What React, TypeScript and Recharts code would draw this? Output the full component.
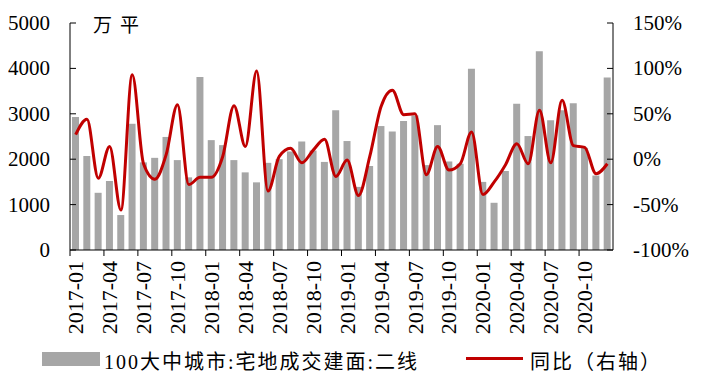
import {
  ComposedChart,
  Bar,
  Line,
  XAxis,
  YAxis,
} from "recharts";

const months = [
  "2017-01", "2017-02", "2017-03", "2017-04", "2017-05", "2017-06",
  "2017-07", "2017-08", "2017-09", "2017-10", "2017-11", "2017-12",
  "2018-01", "2018-02", "2018-03", "2018-04", "2018-05", "2018-06",
  "2018-07", "2018-08", "2018-09", "2018-10", "2018-11", "2018-12",
  "2019-01", "2019-02", "2019-03", "2019-04", "2019-05", "2019-06",
  "2019-07", "2019-08", "2019-09", "2019-10", "2019-11", "2019-12",
  "2020-01", "2020-02", "2020-03", "2020-04", "2020-05", "2020-06",
  "2020-07", "2020-08", "2020-09", "2020-10", "2020-11", "2020-12",
];

// 100大中城市:宅地成交建面:二线 (万平)
const area = [
  2930, 2070, 1260, 1520, 770, 2780, 1930, 2030, 2490, 1980, 1600, 3810,
  2420, 2310, 1980, 1710, 1490, 1920, 2000, 2170, 2390, 2190, 1940, 3080,
  2400, 1390, 1850, 2730, 2610, 2840, 2960, 1870, 2750, 1950, 1900, 3990,
  1500, 1040, 1740, 3220, 2510, 4380, 2860, 3080, 3230, 2250, 1640, 3800,
];

// 同比 (%)
const yoy = [
  27, 44, -21, 14, -56, 93, -5, -22, 5, 60, -28, -20,
  -20, 3, 59, 14, 97, -35, 3, 12, -4, 10, 22, -19,
  -1, -40, 3, 58, 76, 49, 50, -17, 14, -12, -5, 30,
  -39, -25, -6, 17, -5, 54, -4, 65, 15, 13, -16, -5,
];

const leftTicks = [0, 1000, 2000, 3000, 4000, 5000];
const rightTicks = [-100, -50, 0, 50, 100, 150];

const data = months.map((m, i) => ({ month: m, area: area[i], yoy: yoy[i] }));

const W = 707;
const H = 383;
const TOP = 23;
const BOTTOM = 250;
const LEFT = 70;
const RIGHT = 613;
const HALF = (RIGHT - LEFT) / months.length / 2;
const FONT =
  "'Liberation Serif', 'Times New Roman', serif, 'Noto Sans CJK SC'";

function XTick({ x, payload }: any) {
  const ty = BOTTOM + 11;
  return (
    <g>
      <line x1={x - HALF} x2={x - HALF} y1={BOTTOM} y2={BOTTOM + 6} stroke="#000" />
      <text
        x={x}
        y={ty}
        transform={`rotate(-90 ${x} ${ty})`}
        textAnchor="end"
        dominantBaseline="central"
        style={{ fontSize: 22, fontFamily: FONT }}
        fill="#000"
      >
        {payload.value}
      </text>
    </g>
  );
}

function LeftTick({ y, payload }: any) {
  return (
    <g>
      <line x1={LEFT} x2={LEFT + 6} y1={y} y2={y} stroke="#000" />
      <text x={LEFT - 20} y={y} textAnchor="end" dominantBaseline="central"
        style={{ fontSize: 21, fontFamily: FONT }} fill="#000">
        {payload.value}
      </text>
    </g>
  );
}

function RightTick({ y, payload }: any) {
  return (
    <g>
      <line x1={RIGHT - 6} x2={RIGHT} y1={y} y2={y} stroke="#000" />
      <text x={RIGHT + 20} y={y} textAnchor="start" dominantBaseline="central"
        style={{ fontSize: 21, fontFamily: FONT }} fill="#000">
        {payload.value}%
      </text>
    </g>
  );
}

export default function App() {
  return (
    <div style={{ position: "relative", width: W, height: H, margin: -8, background: "#fff", fontFamily: FONT }}>
      <ComposedChart
        width={W}
        height={H}
        data={data}
        margin={{ top: TOP, right: 0, bottom: 0, left: 0 }}
      >
        <XAxis
          dataKey="month"
          interval={2}
          height={H - BOTTOM}
          tickLine={false}
          tick={<XTick />}
          axisLine={{ stroke: "#000" }}
        />
        <YAxis
          yAxisId="left"
          width={LEFT}
          domain={[0, 5000]}
          ticks={leftTicks}
          tickLine={false}
          tick={<LeftTick />}
          axisLine={{ stroke: "#000" }}
        />
        <YAxis
          yAxisId="right"
          orientation="right"
          width={W - RIGHT}
          domain={[-100, 150]}
          ticks={rightTicks}
          tickLine={false}
          tick={<RightTick />}
          axisLine={{ stroke: "#000" }}
        />
        <Bar yAxisId="left" dataKey="area" fill="#A6A6A6" barSize={7} isAnimationActive={false} />
        <Line
          yAxisId="right"
          dataKey="yoy"
          type="monotone"
          stroke="#C00000"
          strokeWidth={3}
          dot={false}
          isAnimationActive={false}
        />
      </ComposedChart>
      <div style={{ position: "absolute", left: 93, top: 10, fontSize: 19, letterSpacing: 8 }}>
        万平
      </div>
      <div style={{ position: "absolute", left: 42, top: 352, width: 58, height: 14, background: "#A6A6A6" }} />
      <div style={{ position: "absolute", left: 104, top: 346, fontSize: 20, letterSpacing: 2, whiteSpace: "nowrap" }}>
        100大中城市:宅地成交建面:二线
      </div>
      <div style={{ position: "absolute", left: 466, top: 357, width: 57, height: 3, background: "#C00000" }} />
      <div style={{ position: "absolute", left: 530, top: 346, fontSize: 20, letterSpacing: 2, whiteSpace: "nowrap" }}>
        同比（右轴）
      </div>
    </div>
  );
}
